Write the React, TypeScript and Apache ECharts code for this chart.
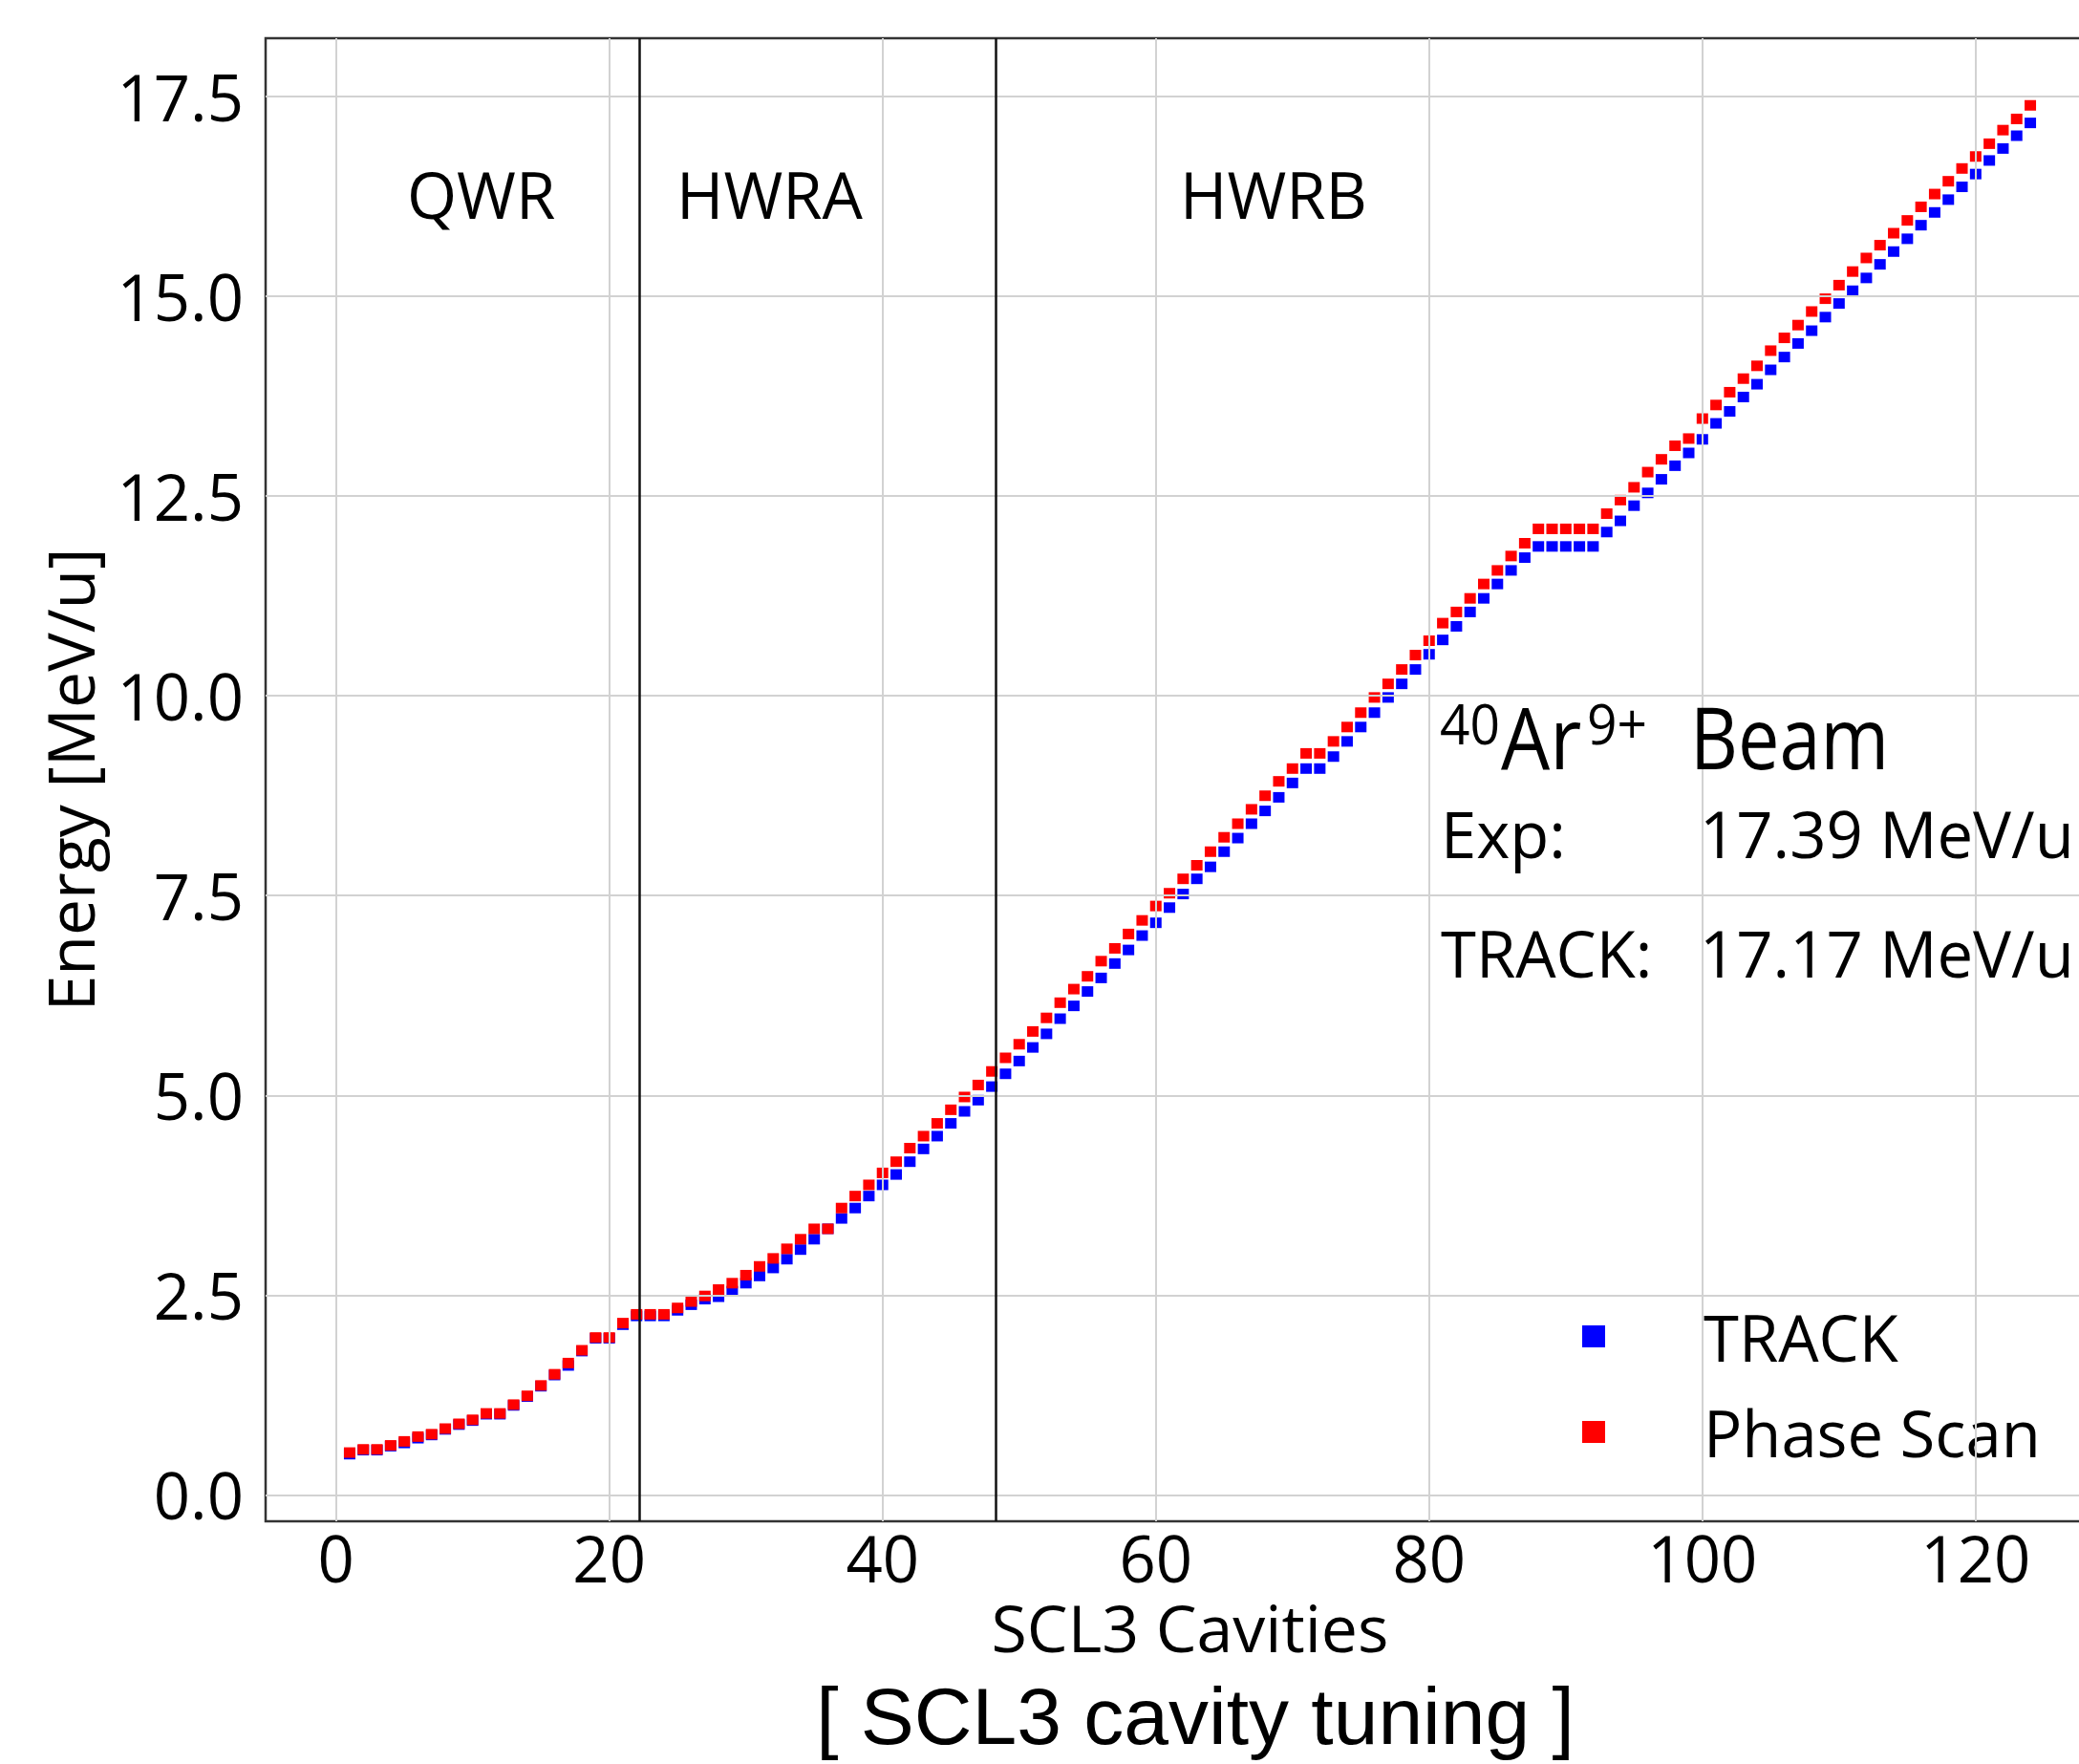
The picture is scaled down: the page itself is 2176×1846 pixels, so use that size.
import React, { useEffect, useRef } from "react";
import * as echarts from "echarts";

// SCL3 cavity numbers run 1..124 (index + 1)
const phaseScanEnergy = [
  0.53, 0.57, 0.57, 0.62, 0.67, 0.73, 0.76, 0.83, 0.89, 0.94,
  1.02, 1.02, 1.13, 1.24, 1.37, 1.51, 1.65, 1.81, 1.97, 1.97,
  2.15, 2.26, 2.26, 2.26, 2.34, 2.42, 2.49, 2.57, 2.65, 2.75,
  2.86, 2.96, 3.08, 3.2, 3.33, 3.33, 3.59, 3.74, 3.88, 4.03,
  4.17, 4.34, 4.49, 4.65, 4.82, 4.98, 5.13, 5.3, 5.47, 5.64,
  5.8, 5.97, 6.16, 6.33, 6.49, 6.68, 6.84, 7.02, 7.19, 7.37,
  7.53, 7.71, 7.88, 8.05, 8.23, 8.4, 8.58, 8.75, 8.93, 9.09,
  9.28, 9.28, 9.43, 9.61, 9.79, 9.98, 10.15, 10.33, 10.51, 10.69,
  10.91, 11.05, 11.22, 11.4, 11.57, 11.75, 11.91, 12.09, 12.09, 12.09,
  12.09, 12.09, 12.28, 12.45, 12.61, 12.8, 12.96, 13.13, 13.22, 13.47,
  13.64, 13.8, 13.97, 14.13, 14.32, 14.48, 14.64, 14.81, 14.97, 15.14,
  15.31, 15.48, 15.64, 15.79, 15.95, 16.12, 16.28, 16.44, 16.6, 16.75,
  16.91, 17.08, 17.22, 17.39,
];

const trackEnergy = [
  0.51, 0.56, 0.56, 0.61, 0.65, 0.71, 0.75, 0.82, 0.88, 0.93,
  1.01, 1.01, 1.12, 1.23, 1.36, 1.5, 1.62, 1.8, 1.96, 1.96,
  2.13, 2.24, 2.24, 2.24, 2.31, 2.38, 2.45, 2.48, 2.55, 2.65,
  2.74, 2.84, 2.95, 3.07, 3.2, 3.33, 3.46, 3.59, 3.74, 3.88,
  4.01, 4.17, 4.33, 4.49, 4.65, 4.8, 4.94, 5.11, 5.27, 5.43,
  5.6, 5.77, 5.96, 6.12, 6.3, 6.47, 6.65, 6.82, 7.0, 7.16,
  7.35, 7.52, 7.71, 7.86, 8.05, 8.22, 8.4, 8.56, 8.73, 8.91,
  9.09, 9.09, 9.24, 9.43, 9.61, 9.79, 9.98, 10.15, 10.33, 10.52,
  10.7, 10.87, 11.05, 11.22, 11.4, 11.57, 11.73, 11.87, 11.87, 11.87,
  11.87, 11.87, 12.05, 12.19, 12.38, 12.54, 12.71, 12.88, 13.04, 13.21,
  13.41, 13.56, 13.74, 13.9, 14.08, 14.24, 14.41, 14.57, 14.74, 14.91,
  15.07, 15.23, 15.4, 15.56, 15.72, 15.89, 16.05, 16.21, 16.37, 16.53,
  16.7, 16.85, 17.01, 17.17,
];

const xTicks = [0, 20, 40, 60, 80, 100, 120];
const yTicks = [0, 2.5, 5, 7.5, 10, 12.5, 15, 17.5];
const sectionBoundaries = [22.2, 48.3];
const sectionNames = ["QWR", "HWRA", "HWRB"];
const seriesNames = ["TRACK", "Phase Scan"];
const expEnergyText = "17.39 MeV/u";
const trackEnergyText = "17.17 MeV/u";

const FONT = "Open Sans";
// the plot frame runs past the right edge of the picture, as in the reference
const CANVAS_W = 2250;

export default function App() {
  const ref = useRef<HTMLDivElement>(null);

  useEffect(() => {
    if (!ref.current) return;
    const chart = echarts.init(ref.current, null, { renderer: "svg" });

    const toPoints = (arr: number[]) => arr.map((v, i) => [i + 1, v]);

    const txt = (
      text: string,
      x: number,
      y: number,
      fontSize: number,
      opts: any = {}
    ) => ({
      type: "text",
      x,
      y,
      scaleX: opts.scaleX ?? 1,
      z: 100,
      silent: true,
      style: {
        text,
        fontSize,
        lineHeight: opts.lineHeight ?? fontSize,
        fontFamily: opts.fontFamily ?? FONT,
        fill: "#000",
        align: opts.align ?? "left",
        textAlign: opts.align ?? "left",
        verticalAlign: "middle",
        textVerticalAlign: "middle",
      },
    });

    const sectionLabelX = [426, 708, 1235];

    const option: any = {
      animation: false,
      backgroundColor: "#fff",
      grid: {
        left: 278,
        top: 40,
        right: CANVAS_W - 2213,
        bottom: 254,
        show: true,
        borderColor: "#333",
        borderWidth: 2.5,
        backgroundColor: "transparent",
        containLabel: false,
      },
      xAxis: {
        type: "value",
        min: -5.15,
        max: 130.15,
        name: "SCL3 Cavities",
        nameLocation: "middle",
        nameGap: 81,
        nameTextStyle: {
          fontFamily: FONT,
          fontSize: 68,
          lineHeight: 58,
          color: "#000",
        },
        axisLine: { show: false },
        splitLine: { show: false },
        axisTick: {
          show: true,
          inside: false,
          length: 8,
          customValues: xTicks,
          lineStyle: { color: "#333", width: 2 },
        },
        axisLabel: {
          customValues: xTicks,
          margin: 8,
          fontFamily: FONT,
          fontSize: 67,
          lineHeight: 60,
          color: "#000",
          formatter: (v: number) => String(v),
        },
      },
      yAxis: {
        type: "value",
        min: -0.33,
        max: 18.23,
        name: "Energy [MeV/u]",
        nameLocation: "middle",
        nameRotate: 90,
        nameGap: 172,
        nameTextStyle: { fontFamily: FONT, fontSize: 68, color: "#000" },
        axisLine: { show: false },
        splitLine: { show: false },
        axisTick: {
          show: true,
          inside: false,
          length: 8,
          customValues: yTicks,
          lineStyle: { color: "#333", width: 2 },
        },
        axisLabel: {
          customValues: yTicks,
          margin: 23,
          fontFamily: FONT,
          fontSize: 67,
          color: "#000",
          formatter: (v: number) => v.toFixed(1),
        },
      },
      legend: {
        orient: "vertical",
        left: 1656,
        top: 1365,
        padding: 0,
        itemWidth: 24,
        itemHeight: 23,
        itemGap: 33,
        icon: "rect",
        selectedMode: false,
        data: seriesNames,
        textStyle: {
          fontFamily: FONT,
          fontSize: 67,
          lineHeight: 67,
          color: "#000",
          padding: [0, 0, 0, 98],
        },
      },
      series: [
        {
          name: "__grid",
          type: "line",
          data: [],
          silent: true,
          z: 1,
          markLine: {
            silent: true,
            animation: false,
            symbol: ["none", "none"],
            label: { show: false },
            lineStyle: { color: "#d2d2d2", width: 2, type: "solid" },
            emphasis: { disabled: true },
            data: [
              ...xTicks.map((v) => ({ xAxis: v })),
              ...yTicks.map((v) => ({ yAxis: v })),
              ...sectionBoundaries.map((v) => ({
                xAxis: v,
                lineStyle: { color: "#111", width: 2.5, type: "solid" },
              })),
            ],
          },
        },
        {
          name: seriesNames[0],
          type: "scatter",
          z: 3,
          symbol: "rect",
          symbolSize: [12, 11],
          itemStyle: { color: "#0000ff", opacity: 1 },
          data: toPoints(trackEnergy),
        },
        {
          name: seriesNames[1],
          type: "scatter",
          z: 4,
          symbol: "rect",
          symbolSize: [12, 11],
          itemStyle: { color: "#ff0000", opacity: 1 },
          data: toPoints(phaseScanEnergy),
        },
      ],
      graphic: [
        ...sectionNames.map((s, i) => txt(s, sectionLabelX[i], 203, 67)),
        txt("40", 1507, 757, 58, { scaleX: 0.95 }),
        txt("Ar", 1571, 770, 90, { scaleX: 0.9 }),
        txt("9+", 1661, 757, 58, { scaleX: 0.95 }),
        txt("Beam", 1769, 770, 90, { scaleX: 0.86 }),
        txt("Exp:", 1508, 872, 67),
        txt(expEnergyText, 1779, 872, 67),
        txt("TRACK:", 1508, 997, 67),
        txt(trackEnergyText, 1779, 997, 67),
        txt("[ SCL3 cavity tuning ]", 1251, 1796, 84, {
          fontFamily: "Liberation Sans",
          align: "center",
          lineHeight: 76,
        }),
      ],
    };

    chart.setOption(option);
    return () => chart.dispose();
  }, []);

  return (
    <div
      style={{
        position: "absolute",
        left: 0,
        top: 0,
        width: 2176,
        height: 1846,
        overflow: "hidden",
        background: "#fff",
      }}
    >
      <div ref={ref} style={{ width: CANVAS_W, height: 1846 }} />
    </div>
  );
}
